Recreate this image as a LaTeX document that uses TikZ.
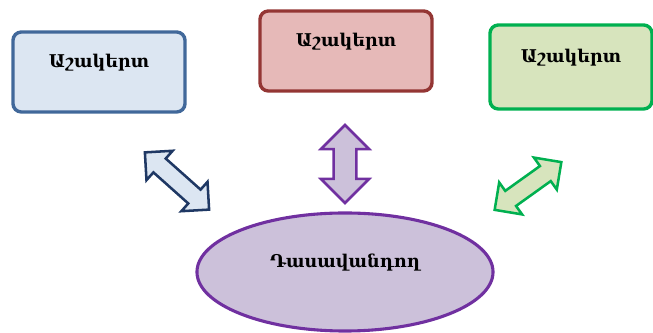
\documentclass[tikz,border=0pt]{standalone}
\usepackage{fontspec}
\setmainfont{DejaVu Serif}
\usepackage{xcolor}
\usetikzlibrary{shapes.geometric,shapes.arrows}
\definecolor{blueFill}{HTML}{DCE6F2}
\definecolor{blueLine}{HTML}{41689A}
\definecolor{navyLine}{HTML}{1F3864}
\definecolor{redFill}{HTML}{E6B9B8}
\definecolor{redLine}{HTML}{943634}
\definecolor{greenFill}{HTML}{D7E4BD}
\definecolor{greenLine}{HTML}{00B050}
\definecolor{violetFill}{HTML}{CCC1DA}
\definecolor{violetLine}{HTML}{7030A0}

\begin{document}
\begin{tikzpicture}[
    x=0.025cm, y=-0.025cm,
    pupil/.style={rectangle, line width=2.4pt, rounded corners=6pt, minimum width=4.3cm, minimum height=2cm, font=\bfseries\fontsize{12.5}{15}\selectfont, text height=0.3cm, text depth=0.52cm},
    teacher/.style={ellipse, draw=violetLine, fill=violetFill, line width=2.2pt, inner sep=0pt, minimum width=7.4cm, minimum height=2.95cm, font=\bfseries\fontsize{12.5}{15}\selectfont, text height=0.3cm, text depth=0.52cm},
    link/.style={double arrow, line width=1.8pt, inner xsep=0pt, inner ysep=0.2cm, double arrow head extend=0.26cm}
]
\useasboundingbox (0,0) rectangle (653,333);

\node[pupil, draw=blueLine, fill=blueFill] (left) at (99,72) {Աշակերտ};
\node[pupil, draw=redLine, fill=redFill] (middle) at (346,51) {Աշակերտ};
\node[pupil, draw=greenLine, fill=greenFill, minimum width=4.05cm, minimum height=2.1cm] (right) at (571,67) {Աշակերտ};
\node[teacher] (teach) at (345,272) {Դասավանդող};

\node[link, draw=navyLine, fill=blueFill, minimum height=2.15cm, rotate=-41.7] (leftlink) at (177,181) {};
\node[link, draw=violetLine, fill=violetFill, minimum height=1.95cm, inner ysep=0.25cm, double arrow head extend=0.32cm, rotate=90] (midlink) at (345,164) {};
\node[link, draw=greenLine, fill=greenFill, minimum height=2.05cm, rotate=35.6] (rightlink) at (528,186) {};

\end{tikzpicture}
\end{document}
